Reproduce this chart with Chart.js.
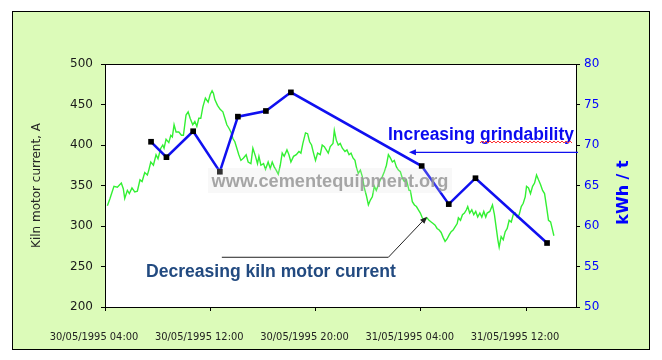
<!DOCTYPE html>
<html>
<head>
<meta charset="utf-8">
<script src="https://cdn.jsdelivr.net/npm/chart.js@4"></script>
<style>
  html, body { margin: 0; padding: 0; background: #fff; }
  canvas { display: block; }
</style>
</head>
<body>
<canvas id="kilnChart" width="662" height="360"></canvas>
<script>
// time is in hours counted from 30/05/1995 04:00
const xTickHours = [0, 8, 16, 24, 32];
const xTickLabels = ["30/05/1995 04:00", "30/05/1995 12:00", "30/05/1995 20:00", "31/05/1995 04:00", "31/05/1995 12:00"];

// kiln motor current, A (left axis)
const currentHours = [
    0.18, 0.38, 0.68, 0.94, 1.24, 1.39, 1.50, 1.70, 1.85, 2.05, 2.26, 2.46, 2.66, 2.82, 3.02, 3.22,
    3.33, 3.48, 3.68, 3.88, 4.03, 4.24, 4.39, 4.49, 4.64, 4.85, 5.00, 5.12, 5.25, 5.40, 5.61, 5.81,
    5.96, 6.16, 6.32, 6.47, 6.67, 6.83, 6.98, 7.13, 7.28, 7.44, 7.63, 7.84, 7.99, 8.14, 8.24, 8.35,
    8.55, 8.75, 8.96, 9.11, 9.26, 9.41, 9.57, 9.72, 9.87, 10.02, 10.17, 10.33, 10.53, 10.73, 10.88, 11.09,
    11.24, 11.44, 11.59, 11.70, 11.85, 12.05, 12.20, 12.40, 12.56, 12.71, 12.86, 13.01, 13.17, 13.32, 13.47, 13.62,
    13.83, 13.98, 14.13, 14.33, 14.54, 14.74, 14.89, 15.04, 15.24, 15.40, 15.55, 15.70, 15.85, 16.00, 16.16, 16.36,
    16.51, 16.67, 16.82, 16.97, 17.12, 17.33, 17.43, 17.58, 17.73, 17.88, 18.04, 18.24, 18.39, 18.55, 18.70, 18.85,
    19.00, 19.10, 19.25, 19.41, 19.56, 19.71, 19.86, 20.02, 20.17, 20.32, 20.47, 20.62, 20.78, 20.93, 21.08, 21.23,
    21.39, 21.54, 21.69, 21.84, 21.99, 22.15, 22.30, 22.45, 22.60, 22.75, 22.91, 23.11, 23.21, 23.36, 23.52, 23.67,
    23.82, 23.97, 24.12, 24.28, 24.48, 24.63, 24.79, 24.94, 25.09, 25.24, 25.40, 25.55, 25.70, 25.85, 26.00, 26.16,
    26.31, 26.46, 26.61, 26.77, 26.86, 27.02, 27.17, 27.32, 27.47, 27.57, 27.72, 27.88, 28.03, 28.18, 28.33, 28.49,
    28.64, 28.79, 28.94, 29.05, 29.25, 29.45, 29.60, 29.76, 29.86, 29.96, 30.11, 30.27, 30.42, 30.57, 30.72, 30.88,
    31.03, 31.18, 31.33, 31.48, 31.64, 31.79, 31.94, 32.04, 32.19, 32.34, 32.50, 32.65, 32.80, 32.95, 33.11, 33.26,
    33.41, 33.56, 33.71, 33.87, 34.02, 34.12
];
const currentAmps = [
    325, 334, 349, 348, 353, 346, 334, 344, 340, 347, 342, 343, 357, 355, 366, 363,
    369, 379, 375, 388, 383, 396, 400, 396, 407, 403, 412, 410, 425, 416, 416, 412,
    412, 437, 441, 433, 425, 429, 423, 433, 433, 447, 458, 453, 462, 467, 464, 456,
    449, 444, 441, 433, 425, 421, 416, 408, 404, 396, 388, 381, 384, 388, 379, 377,
    396, 386, 377, 386, 375, 377, 370, 379, 371, 379, 373, 369, 364, 375, 390, 386,
    394, 388, 379, 386, 388, 392, 390, 402, 415, 414, 404, 400, 390, 381, 390, 388,
    400, 398, 394, 390, 398, 402, 418, 406, 400, 402, 396, 392, 394, 388, 390, 384,
    381, 373, 365, 369, 361, 347, 338, 326, 332, 336, 349, 344, 351, 357, 361, 367,
    375, 388, 384, 379, 381, 373, 369, 367, 359, 355, 357, 344, 344, 330, 326, 324,
    320, 316, 310, 307, 310, 307, 305, 303, 301, 297, 295, 292, 286, 281, 284, 289,
    293, 295, 299, 303, 310, 307, 314, 316, 320, 324, 316, 320, 314, 318, 311, 316,
    311, 318, 311, 316, 318, 326, 314, 295, 283, 274, 287, 283, 293, 297, 307, 305,
    314, 316, 311, 314, 324, 328, 336, 349, 347, 340, 349, 353, 363, 357, 351, 344,
    340, 324, 307, 305, 295, 288
];

// specific energy, kWh / t (right axis)
const energyHours = [3.50, 4.67, 6.70, 8.73, 10.10, 12.23, 14.13, 24.07, 26.13, 28.16, 33.60];
const energyKwh = [70.4, 68.5, 71.7, 66.7, 73.5, 74.2, 76.5, 67.4, 62.7, 65.9, 57.9];

const frameGreen = "#dcfbb9";

function fitFont(ctx, text, width, weight, family) {
    ctx.font = weight + " 100px " + family;
    const size = 100 * width / ctx.measureText(text).width;
    return weight + " " + size.toFixed(2) + "px " + family;
}

function arrowHead(ctx, x0, y0, x1, y1, len, half) {
    const ang = Math.atan2(y1 - y0, x1 - x0);
    const bx = x1 - len * Math.cos(ang), by = y1 - len * Math.sin(ang);
    ctx.beginPath();
    ctx.moveTo(x1, y1);
    ctx.lineTo(bx + half * Math.sin(ang), by - half * Math.cos(ang));
    ctx.lineTo(bx - half * Math.sin(ang), by + half * Math.cos(ang));
    ctx.closePath();
    ctx.fill();
}

const decor = {
    id: "decor",
    beforeDraw(chart) {
        const { ctx, chartArea: a } = chart;
        ctx.save();
        ctx.fillStyle = "#fff";
        ctx.fillRect(0, 0, chart.width, chart.height);
        ctx.fillStyle = frameGreen;
        ctx.fillRect(12, 11, 637, 338);
        ctx.strokeStyle = "#000";
        ctx.lineWidth = 1;
        ctx.strokeRect(12.5, 11.5, 637, 338);
        ctx.fillStyle = "#fff";
        ctx.fillRect(a.left, a.top, a.right - a.left, a.bottom - a.top);
        ctx.restore();
    },
    afterDraw(chart) {
        const { ctx, chartArea: a, scales } = chart;
        const x = scales.x, y = scales.y, y2 = scales.y2;
        ctx.save();

        // plot frame
        ctx.strokeStyle = "#000";
        ctx.lineWidth = 1;
        ctx.strokeRect(Math.round(a.left) + 0.5, Math.round(a.top) + 0.5,
            Math.round(a.right - a.left), Math.round(a.bottom - a.top));

        // watermark
        ctx.fillStyle = "rgba(225,225,225,0.22)";
        ctx.fillRect(208, 168, 244, 25);
        ctx.font = fitFont(ctx, "www.cementequipment.org", 237, "bold", "'Liberation Sans', Arial, sans-serif");
        ctx.fillStyle = "rgba(150,150,150,0.85)";
        ctx.textAlign = "center";
        ctx.textBaseline = "alphabetic";
        ctx.fillText("www.cementequipment.org", 330, 186.5);

        // increasing grindability
        ctx.textAlign = "left";
        ctx.font = fitFont(ctx, "Increasing grindability", 186, "bold", "'Liberation Sans', Arial, sans-serif");
        ctx.fillStyle = "#0a0af0";
        ctx.fillText("Increasing grindability", 388, 139.5);
        // spell-check squiggle
        ctx.strokeStyle = "#ff3333";
        ctx.lineWidth = 1;
        ctx.beginPath();
        for (let px = 480, k = 0; px <= 573; px += 2, k++) {
            const py = k % 2 ? 141 : 143;
            if (k === 0) ctx.moveTo(px, py); else ctx.lineTo(px, py);
        }
        ctx.stroke();

        const gy = y2.getPixelForValue(69.1);
        const gx = x.getPixelForValue(23.1);
        ctx.strokeStyle = "#1010ee";
        ctx.fillStyle = "#1010ee";
        ctx.lineWidth = 1.2;
        ctx.beginPath();
        ctx.moveTo(a.right + 2, gy);
        ctx.lineTo(gx + 4, gy);
        ctx.stroke();
        arrowHead(ctx, a.right, gy, gx, gy, 7, 3);

        // decreasing kiln motor current
        ctx.font = fitFont(ctx, "Decreasing kiln motor current", 250, "bold", "'Liberation Sans', Arial, sans-serif");
        ctx.fillStyle = "#224a80";
        ctx.fillText("Decreasing kiln motor current", 146, 276.7);

        const sx = x.getPixelForValue(8.88), sy = y.getPixelForValue(261.4);
        const cx = x.getPixelForValue(21.54);
        const tx = x.getPixelForValue(24.48), ty = y.getPixelForValue(311.5);
        ctx.strokeStyle = "#222";
        ctx.fillStyle = "#222";
        ctx.lineWidth = 1;
        ctx.beginPath();
        ctx.moveTo(sx, sy);
        ctx.lineTo(cx, sy);
        ctx.lineTo(tx - 3, ty + 3);
        ctx.stroke();
        arrowHead(ctx, cx, sy, tx, ty, 7, 3);

        // right axis title
        ctx.translate(623.5, 192.5);
        ctx.rotate(-Math.PI / 2);
        ctx.textAlign = "center";
        ctx.textBaseline = "middle";
        ctx.font = "bold 16px 'DejaVu Sans', sans-serif";
        ctx.fillStyle = "#0000ff";
        ctx.fillText("kWh / t", 0, 0);
        ctx.restore();
    }
};

const tickGrid = { display: true, drawOnChartArea: false, drawTicks: true, tickLength: 4, color: "#000" };

new Chart(document.getElementById("kilnChart"), {
    type: "line",
    data: {
        datasets: [{
            label: "kWh / t",
            data: energyHours.map((h, i) => ({ x: h, y: energyKwh[i] })),
            yAxisID: "y2",
            borderColor: "#1010f0",
            borderWidth: 2.5,
            pointStyle: "rect",
            pointRadius: 4,
            pointBorderWidth: 0,
            pointBackgroundColor: "#000",
            tension: 0,
            order: 0
        }, {
            label: "Kiln motor current, A",
            data: currentHours.map((h, i) => ({ x: h, y: currentAmps[i] })),
            yAxisID: "y",
            borderColor: "#33f033",
            borderWidth: 1.4,
            pointRadius: 0,
            tension: 0,
            order: 1
        }]
    },
    options: {
        responsive: false,
        animation: false,
        events: [],
        layout: { padding: { top: 64, left: 0, right: 0, bottom: 0 } },
        plugins: { legend: { display: false }, tooltip: { enabled: false } },
        scales: {
            x: {
                type: "linear",
                position: "bottom",
                min: 0,
                max: 35.8,
                afterBuildTicks: (s) => { s.ticks = xTickHours.map((v) => ({ value: v })); },
                afterFit: (s) => { s.height = 53; },
                ticks: {
                    autoSkip: false,
                    maxRotation: 0,
                    labelOffset: -11,
                    padding: 20,
                    color: "#222",
                    font: { family: "'Liberation Sans Narrow', 'DejaVu Sans Condensed', sans-serif", size: 11 },
                    callback: (v) => xTickLabels[xTickHours.indexOf(v)]
                },
                grid: tickGrid,
                border: { display: false }
            },
            y: {
                position: "left",
                min: 200,
                max: 500,
                afterFit: (s) => { s.width = 105; },
                ticks: {
                    stepSize: 50,
                    padding: 8,
                    color: "#1a1a1a",
                    font: { family: "'DejaVu Sans', sans-serif", size: 12 }
                },
                title: {
                    display: true,
                    text: "Kiln motor current, A",
                    color: "#262626",
                    padding: { top: 30, bottom: 0 },
                    font: { family: "'DejaVu Sans', sans-serif", size: 12 }
                },
                grid: tickGrid,
                border: { display: false }
            },
            y2: {
                position: "right",
                min: 50,
                max: 80,
                afterFit: (s) => { s.width = 86; },
                ticks: {
                    stepSize: 5,
                    padding: 4,
                    color: "#0000ff",
                    font: { family: "'DejaVu Sans', sans-serif", size: 12 }
                },
                grid: tickGrid,
                border: { display: false }
            }
        }
    },
    plugins: [decor]
});
</script>
</body>
</html>
